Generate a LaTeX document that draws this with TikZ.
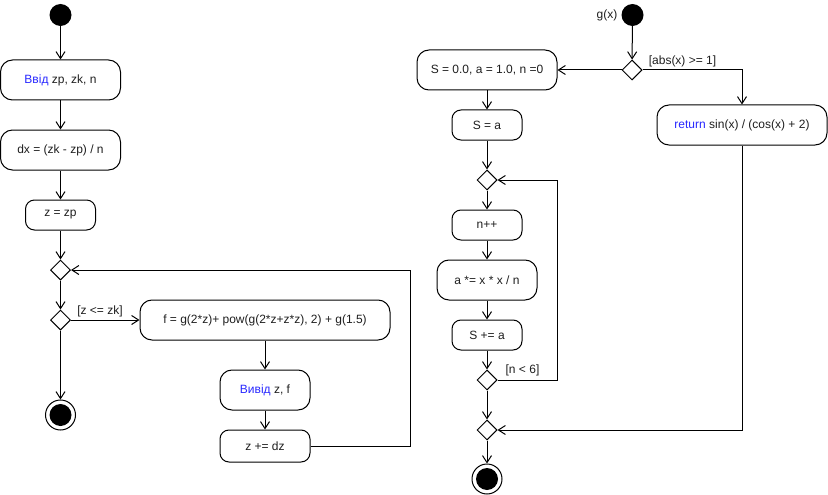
\documentclass[tikz,border=0pt]{standalone}
\usepackage{fontspec}
\setmainfont{Liberation Sans}
\usetikzlibrary{arrows.meta,shapes.geometric}
\definecolor{kwblue}{RGB}{40,40,255}
\definecolor{txt}{RGB}{30,30,30}
\tikzset{
  every node/.style={font=\fontsize{12}{14}\selectfont, text=txt},
  act/.style={draw, line width=1pt, rounded corners=12pt, inner sep=0pt, align=center},
  acts/.style={draw, line width=1pt, rounded corners=9pt, inner sep=0pt, align=center},
  dec/.style={draw, line width=1pt, diamond, minimum width=20pt, minimum height=20pt, inner sep=0pt},
  startnode/.style={circle, fill=black, minimum size=22pt, inner sep=0pt},
  endnode/.style={circle, draw, line width=1pt, minimum size=30pt, inner sep=0pt,
    path picture={\fill[black] (path picture bounding box.center) circle (11pt);}},
  flow/.style={line width=1pt, -{Straight Barb[length=7pt,width=9pt]}},
  plain/.style={line width=1pt},
  guard/.style={inner sep=0pt}
}
\newcommand{\kw}[1]{\textcolor{kwblue}{#1}}
\begin{document}
\begin{tikzpicture}[x=1pt,y=-1pt]
\useasboundingbox (0,0) rectangle (828,495);
% left column
\node[startnode] (s1) at (60.5,15) {};
\node[act, minimum width=120pt, minimum height=40pt] (b1) at (60.5,80) {\kw{Ввід} zp, zk, n};
\node[act, minimum width=120pt, minimum height=40pt] (b2) at (60.5,150) {dx = (zk - zp) / n};
\node[acts, minimum width=70pt, minimum height=30pt] (b3) at (60.5,215) {z = zp};
\node[dec] (d1) at (60.5,270) {};
\node[dec] (d2) at (60.5,320) {};
\node[endnode] (e1) at (60.5,415) {};
\node[act, minimum width=250pt, minimum height=40pt] (bf) at (265,320) {f = g(2*z)+ pow(g(2*z+z*z), 2) + g(1.5)};
\node[act, minimum width=90pt, minimum height=40pt] (bv) at (265,390) {\kw{Вивід} z, f};
\node[acts, minimum width=90pt, minimum height=32pt] (bz) at (265,446) {z += dz};
\coordinate (l1) at (410,446);
\coordinate (l2) at (410,270);
\node[guard] (g1) at (100,311) {[z <= zk]};

\draw[flow] (s1) -- (b1);
\draw[flow] (b1) -- (b2);
\draw[flow] (b2) -- (b3);
\draw[flow] (b3) -- (d1);
\draw[flow] (d1) -- (d2);
\draw[flow] (d2) -- (bf);
\draw[flow] (d2) -- (e1);
\draw[flow] (bf) -- (bv);
\draw[flow] (bv) -- (bz);
\draw[flow] (bz.east) -- (l1) -- (l2) -- (d1.east);

% right column
\node[startnode] (s2) at (632.5,15) {};
\node (gx) at (607,15) {g(x)};
\node[dec] (d3) at (632,70) {};
\node[act, minimum width=140pt, minimum height=40pt] (r1) at (487,70) {S = 0.0, a = 1.0, n =0};
\node[act, minimum width=170pt, minimum height=40pt] (ret) at (742,125) {\kw{return} sin(x) / (cos(x) + 2)};
\node[acts, minimum width=70pt, minimum height=30pt] (r2) at (487,125) {S = a};
\node[dec] (d4) at (487,180) {};
\node[acts, minimum width=70pt, minimum height=30pt] (r3) at (487,225) {n++};
\node[act, minimum width=100pt, minimum height=40pt] (r4) at (487,280) {a *= x * x / n};
\node[acts, minimum width=70pt, minimum height=30pt] (r5) at (487,335) {S += a};
\node[dec] (d5) at (487,380) {};
\node[dec] (d6) at (487,430) {};
\node[endnode] (e2) at (487,479) {};
\coordinate (c1) at (742,70);
\coordinate (c2) at (557,380);
\coordinate (c3) at (557,180);
\coordinate (c4) at (742,430);
\node[guard] (g2) at (682.5,61) {[abs(x) >= 1]};
\node[guard] (g3) at (522.5,370) {[n < 6]};

\draw[flow] (s2) -- (d3);
\draw[flow] (d3.west) -- (r1.east);
\draw[flow] (d3.east) -- (c1) -- (ret.north);
\draw[flow] (r1) -- (r2);
\draw[flow] (r2) -- (d4);
\draw[flow] (d4) -- (r3);
\draw[flow] (r3) -- (r4);
\draw[flow] (r4) -- (r5);
\draw[flow] (r5) -- (d5);
\draw[flow] (d5) -- (d6);
\draw[flow] (d6) -- (e2);
\draw[flow] (d5.east) -- (c2) -- (c3) -- (d4.east);
\draw[flow] (ret.south) -- (c4) -- (d6.east);
\end{tikzpicture}
\end{document}
